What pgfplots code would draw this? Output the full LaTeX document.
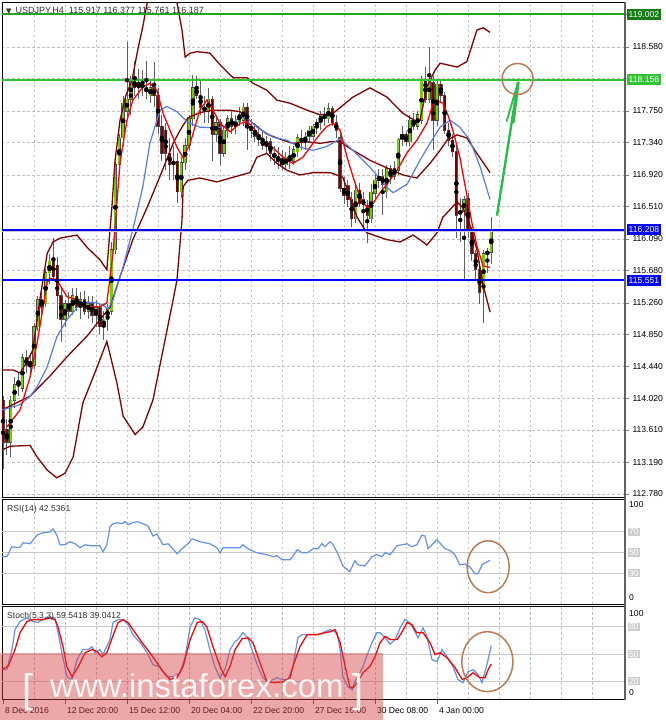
\documentclass[border=0pt]{standalone}
\usepackage{pgfplots}
\usepackage{pgfplotstable}
\pgfplotsset{compat=1.18}
\usepackage{fontspec}
\setmainfont{Liberation Sans}
\newfontfamily\dejavu{DejaVu Sans}

\definecolor{bull}{RGB}{115,205,0}
\definecolor{bear}{RGB}{125,0,0}
\definecolor{wick}{RGB}{95,95,95}
\definecolor{band}{RGB}{130,0,0}
\definecolor{maBlue}{RGB}{85,125,235}
\definecolor{oscBlue}{RGB}{100,145,235}
\definecolor{gridc}{RGB}{192,192,192}
\definecolor{lvl}{RGB}{200,200,200}
\definecolor{lvlbox}{RGB}{205,205,205}
\definecolor{lineGreen}{RGB}{50,195,50}
\definecolor{darkGreen}{RGB}{20,125,20}
\definecolor{topGreen}{RGB}{35,165,35}
\definecolor{brownc}{RGB}{185,125,85}
\definecolor{arrowGreen}{RGB}{40,190,70}
\definecolor{wm}{RGB}{214,64,64}

% USDJPY H4 candles: bar index, open, high, low, close
\pgfplotstableread{
i o h l c
0 114.00 114.05 113.10 113.45
1 113.62 113.75 113.28 113.45
2 113.45 114.05 113.26 114.00
3 114.00 114.30 113.90 114.20
4 114.20 114.35 114.05 114.25
5 114.15 114.60 114.10 114.55
6 114.55 114.65 114.35 114.45
7 114.45 114.60 114.30 114.50
8 114.45 115.00 114.40 114.95
9 114.95 115.35 114.90 115.30
10 115.30 115.45 115.10 115.20
11 115.25 115.70 115.20 115.65
12 115.65 115.90 115.50 115.80
13 115.80 116.10 115.55 115.60
14 115.75 115.85 115.05 115.35
15 115.35 115.45 114.75 115.05
16 115.05 115.30 114.95 115.25
17 115.25 115.40 115.05 115.15
18 115.15 115.45 115.10 115.35
19 115.35 115.45 115.15 115.20
20 115.20 115.40 115.05 115.30
21 115.30 115.42 115.10 115.15
22 115.15 115.35 115.05 115.25
23 115.25 115.35 115.00 115.10
24 115.10 115.30 114.95 115.20
25 115.20 115.25 114.85 114.95
26 114.95 115.15 114.78 115.05
27 115.05 115.25 114.90 115.20
28 115.15 116.05 115.10 115.95
29 115.95 117.10 115.90 117.05
30 117.05 117.45 116.95 117.40
31 117.40 117.95 117.30 117.85
32 117.75 118.65 117.65 117.90
33 117.90 118.20 117.70 118.15
34 118.15 118.40 117.95 118.05
35 118.05 118.30 117.90 118.10
36 118.10 118.28 117.95 118.05
37 118.05 118.40 117.90 118.00
38 117.95 118.15 117.85 118.05
39 118.05 118.38 117.80 117.95
40 117.95 118.05 117.45 117.55
41 117.55 117.70 117.10 117.20
42 117.50 117.60 116.98 117.20
43 117.20 117.40 116.85 117.05
44 117.05 117.30 116.85 117.10
45 117.10 117.20 116.55 116.70
46 116.70 117.15 116.62 117.08
47 117.08 117.40 116.98 117.30
48 117.30 117.70 117.25 117.65
49 117.65 118.22 117.55 118.05
50 118.05 118.20 117.90 117.95
51 117.95 118.15 117.70 117.80
52 117.80 117.95 117.60 117.75
53 117.75 118.05 117.60 117.90
54 117.90 117.95 117.10 117.45
55 117.45 117.70 117.35 117.60
56 117.60 117.65 117.05 117.20
57 117.20 117.55 117.15 117.50
58 117.50 117.70 117.40 117.65
59 117.65 117.75 117.45 117.55
60 117.55 117.70 117.45 117.62
61 117.62 117.80 117.55 117.70
62 117.63 117.85 117.55 117.80
63 117.80 117.85 117.25 117.55
64 117.55 117.65 117.40 117.50
65 117.50 117.60 117.35 117.42
66 117.42 117.55 117.30 117.38
67 117.38 117.50 117.25 117.30
68 117.30 117.42 117.20 117.35
69 117.35 117.40 117.10 117.20
70 117.20 117.30 117.05 117.15
71 117.15 117.28 117.00 117.10
72 117.10 117.25 116.98 117.05
73 117.05 117.22 116.98 117.15
74 117.15 117.30 117.00 117.10
75 117.10 117.30 117.05 117.25
76 117.22 117.45 117.15 117.40
77 117.40 117.50 117.25 117.35
78 117.35 117.48 117.25 117.42
79 117.42 117.55 117.35 117.50
80 117.42 117.58 117.38 117.55
81 117.55 117.65 117.45 117.60
82 117.60 117.75 117.50 117.70
83 117.70 117.80 117.55 117.65
84 117.65 117.85 117.60 117.78
85 117.78 117.82 117.55 117.60
86 117.60 117.70 117.40 117.50
87 117.40 117.50 116.70 116.75
88 116.75 116.90 116.55 116.65
89 116.78 116.85 116.50 116.60
90 116.60 116.70 116.25 116.35
91 116.35 116.80 116.30 116.72
92 116.72 116.82 116.50 116.55
93 116.60 116.70 116.20 116.53
94 116.53 116.60 116.04 116.40
95 116.35 116.80 116.30 116.70
96 116.68 116.95 116.60 116.85
97 116.85 117.00 116.75 116.90
98 116.90 117.00 116.40 116.80
99 116.70 117.05 116.62 117.00
100 117.00 117.05 116.80 116.90
101 116.90 117.10 116.85 117.00
102 116.98 117.40 116.92 117.38
103 117.38 117.55 117.30 117.45
104 117.45 117.48 117.30 117.35
105 117.35 117.70 117.30 117.63
106 117.63 117.72 117.50 117.55
107 117.55 117.75 117.50 117.70
108 117.63 118.20 117.58 118.15
109 118.15 118.32 117.85 117.90
110 117.90 118.58 117.85 118.15
111 118.12 118.20 117.24 117.63
112 117.63 118.15 117.55 118.10
113 118.10 118.15 117.85 117.95
114 117.95 118.00 117.45 117.50
115 117.50 117.60 117.30 117.37
116 117.37 117.45 117.15 117.22
117 117.22 117.30 116.10 116.40
118 116.42 116.62 116.05 116.45
119 116.45 116.65 115.56 116.60
120 116.62 116.68 116.10 116.20
121 116.20 116.25 115.80 115.90
122 115.90 115.95 115.55 115.70
123 115.70 115.80 115.25 115.40
124 115.43 115.95 115.00 115.90
125 115.90 115.97 115.65 115.92
126 115.917 116.377 115.761 116.187
}\candles

\pgfplotsset{
  panel/.style={
    scale only axis, width=623pt, xmin=-0.26, xmax=160.52,
    axis line style={black, line width=0.7pt},
    xtick={8,16,...,152}, xticklabels={},
    xmajorgrids,
    major grid style={gridc, dash pattern=on 2.5pt off 2.5pt, line width=0.6pt},
    minor grid style={gridc, dash pattern=on 2.5pt off 2.5pt, line width=0.6pt},
    tick label style={font=\fontsize{8.6}{10}\selectfont},
  },
  wickbar/.style={only marks, mark=none, forget plot,
    error bars/y dir=both, error bars/y explicit, error bars/error mark=none},
}

\begin{document}
\begin{tikzpicture}
\fill[white] (0,0) rectangle (665pt,-720pt);

% ---------------- price panel ----------------
\begin{axis}[panel, name=main, at={(2pt,-497pt)}, anchor=south west, height=495pt,
  ymin=112.741, ymax=119.164,
  xtick style={draw=none},
  ytick={112.78,113.19,113.61,114.02,114.44,114.85,115.26,115.68,116.09,116.51,116.92,117.34,117.75,118.17,118.58,119.0},
  yticklabels={112.780,113.190,113.610,114.020,114.440,114.850,115.260,115.680,116.090,116.510,116.920,117.340,117.750,{},118.580,{}},
  ymajorgrids, ytick pos=right, yticklabel pos=right,
  ytick style={gray, line width=0.6pt}, tick align=outside, major tick length=4pt,
]
% wicks
\addplot[wickbar, error bars/error bar style={wick, line width=0.9pt, solid}]
  table[x=i, y expr={(\thisrow{h}+\thisrow{l})/2}, y error expr={(\thisrow{h}-\thisrow{l})/2}] {\candles};
% body outlines
\addplot[wickbar, error bars/error bar style={black!70, line width=3.3pt, solid}]
  table[x=i, y expr={(\thisrow{o}+\thisrow{c})/2}, y error expr={max(abs(\thisrow{c}-\thisrow{o})/2,0.004)+0.006}] {\candles};
% bull bodies
\addplot[wickbar, restrict expr to domain={\thisrow{c}-\thisrow{o}}{0:5}, error bars/error bar style={bull, line width=2.1pt, solid}]
  table[x=i, y expr={(\thisrow{o}+\thisrow{c})/2}, y error expr={max(abs(\thisrow{c}-\thisrow{o})/2,0.004)}] {\candles};
% bear bodies
\addplot[wickbar, restrict expr to domain={\thisrow{c}-\thisrow{o}}{-5:0}, error bars/error bar style={bear, line width=2.1pt, solid}]
  table[x=i, y expr={(\thisrow{o}+\thisrow{c})/2}, y error expr={max(abs(\thisrow{c}-\thisrow{o})/2,0.004)}] {\candles};

% Bollinger bands
\addplot[band, line width=1.3pt] coordinates {
(-0.3,114.39)(2.6,114.39)(4.4,114.35)(6.2,114.50)(7.7,114.65)(9.5,115.30)(11.4,115.90)(12.9,116.05)(14.7,116.10)(19.1,116.14)(21.7,115.98)(25.0,115.82)(26.8,115.69)(27.6,116.20)(28.1,116.50)(28.9,117.10)(30.2,117.63)(31.7,117.95)(33.3,118.15)(34.8,118.55)(36.1,118.85)(37.2,119.15)(39.2,119.50)(41.8,119.60)(43.6,119.50)(44.9,119.15)(46.2,118.80)(47.0,118.45)(48.3,118.50)(50.1,118.52)(53.4,118.50)(56.0,118.35)(59.4,118.18)(63.0,118.18)(64.5,118.11)(68.1,118.02)(70.7,117.89)(74.1,117.85)(78.5,117.76)(81.8,117.70)(85.2,117.72)(90.3,117.93)(94.7,118.05)(99.1,117.93)(103.2,117.72)(106.8,117.61)(107.6,117.63)(109.4,118.06)(111.5,118.28)(112.8,118.37)(117.2,118.32)(119.7,118.39)(122.3,118.80)(123.9,118.83)(125.7,118.77)};
\addplot[band, line width=1.3pt] coordinates {
(-0.3,113.87)(7.0,114.05)(12.1,114.31)(16.5,114.56)(21.7,114.83)(25.0,115.04)(27.6,115.20)(30.2,115.60)(33.5,116.08)(37.2,116.50)(40.5,116.90)(43.9,117.33)(45.7,117.50)(47.7,117.66)(50.8,117.73)(54.2,117.76)(58.6,117.76)(61.2,117.74)(64.5,117.59)(68.1,117.45)(72.3,117.37)(74.8,117.33)(78.5,117.35)(81.8,117.33)(84.4,117.35)(87.0,117.35)(90.3,117.24)(94.7,117.11)(99.1,117.01)(103.2,116.92)(106.8,116.88)(110.2,117.07)(112.8,117.24)(114.6,117.37)(117.2,117.44)(119.7,117.40)(122.3,117.20)(125.7,116.95)};
\addplot[band, line width=1.3pt] coordinates {
(-0.3,113.35)(1.8,113.40)(7.0,113.41)(8.8,113.26)(11.4,113.09)(13.9,112.99)(16.0,113.05)(18.1,113.26)(20.6,113.96)(24.3,114.43)(26.8,114.76)(29.4,114.22)(31.0,113.79)(34.1,113.55)(36.1,113.65)(38.7,114.00)(41.3,114.65)(43.9,115.30)(44.9,115.56)(46.2,116.34)(46.5,116.77)(47.7,116.85)(50.8,116.88)(55.2,116.83)(59.4,116.89)(63.7,116.95)(65.5,117.15)(68.1,117.20)(70.7,117.07)(73.3,116.98)(76.6,116.92)(80.0,116.95)(84.4,116.95)(87.7,116.89)(89.5,116.63)(91.4,116.37)(93.9,116.17)(99.1,116.08)(102.5,116.05)(105.8,116.14)(107.6,116.08)(109.4,116.01)(112.0,116.17)(113.5,116.37)(117.2,116.57)(118.7,116.49)(120.5,116.27)(122.3,115.95)(123.9,115.49)(125.7,115.14)};
% slower moving average
\addplot[maBlue, line width=1.2pt] coordinates {
(-0.3,113.87)(1.8,113.90)(4.4,113.94)(7.0,114.05)(8.8,114.17)(11.4,114.43)(13.9,114.82)(16.5,115.04)(19.1,115.20)(21.7,115.27)(24.3,115.26)(25.8,115.23)(27.1,115.18)(28.4,115.30)(31.0,115.73)(33.5,116.21)(36.1,116.77)(37.9,117.33)(40.5,117.76)(42.3,117.81)(44.9,117.74)(47.5,117.61)(50.8,117.54)(55.2,117.53)(58.6,117.57)(61.2,117.67)(63.0,117.66)(65.5,117.54)(69.7,117.41)(73.3,117.37)(76.6,117.28)(80.0,117.24)(83.6,117.29)(87.0,117.39)(90.3,117.24)(94.7,117.02)(99.1,116.76)(100.7,116.69)(104.3,116.80)(107.6,117.11)(110.2,117.33)(112.8,117.54)(115.4,117.63)(117.9,117.54)(120.5,117.37)(123.1,117.03)(125.7,116.60)};
% fast moving average
\addplot[red, line width=1.3pt] coordinates {
(1.0,113.65)(4.4,113.87)(7.0,114.30)(8.8,114.74)(10.1,115.13)(11.4,115.52)(12.1,115.58)(13.9,115.56)(16.5,115.34)(19.1,115.30)(21.7,115.21)(25.0,115.21)(26.8,115.26)(28.4,115.91)(30.2,117.08)(32.0,117.63)(33.5,117.89)(36.1,118.06)(37.9,118.11)(39.7,118.02)(41.3,117.72)(43.1,117.50)(44.9,117.28)(46.5,117.14)(48.3,117.33)(50.8,117.76)(52.6,117.89)(54.2,117.76)(56.0,117.59)(58.6,117.48)(61.2,117.59)(63.0,117.61)(64.5,117.54)(67.1,117.37)(69.7,117.27)(72.3,117.15)(74.8,117.07)(77.4,117.15)(80.0,117.33)(81.8,117.45)(83.6,117.55)(85.2,117.59)(87.0,117.50)(88.8,117.15)(90.3,116.90)(92.1,116.63)(93.9,116.50)(95.5,116.55)(97.3,116.69)(99.1,116.80)(101.7,116.98)(104.3,117.21)(106.8,117.37)(109.4,117.59)(111.0,117.85)(112.0,117.89)(113.5,117.85)(114.8,117.70)(116.1,117.50)(117.9,117.15)(119.7,116.66)(121.0,116.30)(122.3,116.00)(123.9,115.74)(125.7,115.72)};

% horizontal levels
\addplot[lvl, line width=1pt] coordinates {(-0.26,116.187)(160.52,116.187)};
\addplot[topGreen, line width=2pt] coordinates {(-0.26,119.002)(160.52,119.002)};
\addplot[lineGreen, line width=2pt] coordinates {(-0.26,118.156)(160.52,118.156)};
\addplot[blue, line width=2pt] coordinates {(-0.26,116.208)(160.52,116.208)};
\addplot[blue, line width=2pt] coordinates {(-0.26,115.551)(160.52,115.551)};

% hand-drawn arrow and circle
\draw[arrowGreen, line width=2.4pt, line cap=round] (axis cs:127.5,116.40) -- (axis cs:132.9,118.12);
\draw[arrowGreen, line width=1.8pt, line cap=round] (axis cs:130.0,117.62) -- (axis cs:132.9,118.12);
\draw[arrowGreen, line width=1.8pt, line cap=round] (axis cs:131.8,117.60) -- (axis cs:133.1,118.12);
\draw[brownc, line width=1.5pt] (axis cs:132.8,118.165) ellipse [x radius=15.5pt, y radius=15.5pt];

\coordinate (g1) at (axis cs:160.52,119.002);
\coordinate (g2) at (axis cs:160.52,118.156);
\coordinate (b1) at (axis cs:160.52,116.208);
\coordinate (b2) at (axis cs:160.52,115.551);
\end{axis}

% ---------------- RSI panel ----------------
\begin{axis}[panel, name=rsi, at={(2pt,-604pt)}, anchor=south west, height=105pt,
  ymin=0, ymax=102, ytick=\empty, xtick style={draw=none}]
\addplot[lvl, line width=1pt] coordinates {(-0.26,70)(160.52,70)};
\addplot[lvl, line width=1pt] coordinates {(-0.26,50)(160.52,50)};
\addplot[lvl, line width=1pt] coordinates {(-0.26,30)(160.52,30)};
\addplot[oscBlue, line width=1.2pt] coordinates {
(-0.3,46)(1.0,46)(2.3,55.6)(3.6,55)(4.4,55)(5.2,59.5)(7.0,58.5)(8.8,67)(10.1,69)(12.1,70)(12.9,73)(13.9,67)(14.7,57.6)(16.0,57.6)(17.3,60.5)(18.6,58.5)(19.9,54.7)(21.2,57.6)(22.5,56.6)(25.0,56.6)(25.8,50.8)(26.8,57.6)(27.6,75)(28.4,78)(29.7,79)(30.7,78)(31.5,80)(32.3,77)(33.5,79)(34.8,80)(36.1,78)(37.4,76)(38.7,66)(39.7,68)(41.3,57.6)(42.6,58.5)(43.6,54.7)(44.9,48.8)(46.2,53.7)(47.5,57.6)(48.8,63.4)(50.8,60.5)(53.4,58.5)(55.2,54.7)(56.0,49.8)(56.8,54.7)(59.4,54.7)(61.2,54.7)(61.9,57.6)(63.2,53.7)(65.5,49.8)(68.1,47.9)(69.7,46)(70.7,47)(72.0,43)(74.1,43)(74.8,46)(75.9,52.7)(77.2,49.8)(78.5,49.8)(80.0,53.7)(81.3,53.7)(82.3,58.6)(83.1,55.6)(84.4,60.5)(85.2,57.6)(86.5,48)(87.7,37)(89.5,31.4)(90.8,42)(91.6,38)(93.4,37)(95.2,46)(96.5,48)(97.8,46)(98.6,49.8)(99.9,48)(101.7,56.6)(104.3,58.5)(105.5,55.6)(106.8,57.6)(108.1,67)(108.9,66)(109.7,53.7)(112.0,62.4)(114.1,53.7)(115.4,52)(116.6,48)(117.9,38)(119.2,39)(120.5,36)(121.8,29.4)(122.6,29.4)(123.6,38)(124.4,40)(125.7,42.5)};
\draw[brownc, line width=1.5pt] (axis cs:125.2,36.2) ellipse [x radius=21pt, y radius=26pt];
\coordinate (r100) at (axis cs:160.52,96.4);
\coordinate (r70) at (axis cs:160.52,70);
\coordinate (r50) at (axis cs:160.52,50);
\coordinate (r30) at (axis cs:160.52,30);
\coordinate (r0) at (axis cs:160.52,6.1);
\end{axis}

% ---------------- Stochastic panel ----------------
\begin{axis}[panel, name=sto, at={(2pt,-699.5pt)}, anchor=south west, height=93.5pt,
  ymin=0, ymax=103, ytick=\empty,
  xtick={0,16,32,48,64,80,96,112},
  xticklabels={8 Dec 2016,12 Dec 20:00,15 Dec 12:00,20 Dec 04:00,22 Dec 20:00,27 Dec 16:00,30 Dec 08:00,4 Jan 00:00},
  xmajorgrids=false, minor xtick={8,16,...,152}, xminorgrids=true, minor tick length=0pt,
  xtick pos=bottom, tick align=outside, major tick length=4pt,
  xtick style={gray!70!black, line width=0.6pt},
  xticklabel style={anchor=north west, xshift=-1.5pt, yshift=-0.5pt, text=black},
]
\addplot[lvl, line width=1pt] coordinates {(-0.26,80)(160.52,80)};
\addplot[lvl, line width=1pt] coordinates {(-0.26,50)(160.52,50)};
\addplot[lvl, line width=1pt] coordinates {(-0.26,20)(160.52,20)};
% %K
\addplot[oscBlue, line width=1.2pt] coordinates {
(-0.3,33)(1.0,33)(2.3,55)(3.1,77)(4.4,86)(6.2,90)(7.7,86)(9.0,85)(10.3,88)(11.6,91)(13.4,90)(14.2,73.6)(15.2,51.6)(16.5,25)(17.8,22)(19.1,44)(20.6,55)(21.9,55)(23.0,58)(23.7,51.6)(25.0,55)(25.8,49.4)(27.6,66)(28.4,85)(29.7,88)(31.0,88)(32.3,82.5)(33.5,71.5)(35.4,62.6)(37.2,51.6)(38.7,38.4)(40.5,36)(42.3,25)(43.9,25)(45.7,29.5)(47.0,47)(48.3,80)(49.5,90)(50.8,88)(52.1,77)(53.4,55)(54.7,36)(56.0,24)(57.3,33)(58.6,55)(59.9,64)(60.6,66)(61.9,73.6)(63.2,68)(64.5,51.6)(65.8,36)(67.1,24)(68.4,19.6)(70.7,24)(72.0,22)(73.5,22)(74.8,36)(76.1,68)(77.2,71.5)(79.2,71.5)(81.8,71.5)(83.1,74.7)(84.4,77)(86.2,73.6)(87.0,55)(87.7,25)(89.0,14)(90.1,10.8)(90.8,19.6)(92.1,29.5)(92.9,36.6)(94.2,51.6)(95.2,62.6)(96.5,73.6)(97.3,73.6)(98.6,68)(99.9,61)(101.2,66)(102.5,79)(103.7,88)(105.0,84.7)(106.3,74.7)(107.1,68)(108.4,79)(109.4,69.5)(110.7,44)(112.0,41.7)(113.3,55)(114.6,47)(116.1,36.6)(117.4,22)(118.7,18.5)(120.0,30.6)(121.3,33)(122.6,27.5)(123.6,18.5)(124.4,30.6)(125.2,44)(126.0,59.5)};
% %D
\addplot[red, line width=1.3pt] coordinates {
(-0.3,33)(1.3,36.6)(3.1,55)(4.4,73.6)(6.2,86)(7.7,88)(10.3,88)(12.1,90)(13.4,88)(14.2,80)(15.5,58)(16.5,36)(17.8,25)(19.4,36)(21.2,51.6)(23.0,55)(24.3,52.7)(25.5,47)(26.8,51.6)(28.4,70.5)(29.7,84.7)(31.0,88)(32.3,84.7)(34.1,73.6)(35.9,62.6)(37.9,51.6)(39.7,40.6)(41.3,30.6)(43.1,22)(44.9,24)(46.5,36.6)(48.3,66)(50.1,84.7)(51.4,86)(52.6,80)(54.2,58)(56.0,36.6)(57.3,25)(58.6,36.6)(59.9,55)(61.7,66.9)(63.2,68)(64.5,62.6)(66.3,40.6)(68.1,19.6)(70.2,18.5)(72.3,19.6)(74.1,24)(74.8,36)(76.6,58)(78.5,71.5)(81.0,71.5)(83.1,73.6)(84.4,74.7)(85.7,77)(87.0,62.6)(88.3,36.6)(89.5,14)(90.3,13)(91.6,19.6)(92.9,29.5)(94.7,36.6)(96.0,47)(97.3,62.6)(98.6,69.5)(99.9,66)(101.7,66)(103.0,74.7)(104.3,84.7)(105.5,82.5)(106.8,73.6)(108.4,73.6)(110.2,62.6)(111.5,49.4)(112.8,51.6)(114.6,46)(116.6,35.5)(118.5,22)(119.7,24)(121.3,29.5)(123.1,24)(124.4,24)(125.2,33)(126.0,39)};
\draw[brownc, line width=1.5pt] (axis cs:125.0,41.7) ellipse [x radius=25.5pt, y radius=30pt];
\coordinate (s100) at (axis cs:160.52,94.6);
\coordinate (s80) at (axis cs:160.52,80);
\coordinate (s50) at (axis cs:160.52,50);
\coordinate (s20) at (axis cs:160.52,20);
\coordinate (s0) at (axis cs:160.52,7.5);
\end{axis}

% right edge of the panels
\draw[gray!75!black, line width=1.5pt] (625pt,-2pt) -- (625pt,-699.5pt);

% price labels on the right scale
\tikzset{pricebox/.style={anchor=west, text=white, font=\fontsize{8.6}{10}\selectfont, inner xsep=2pt, inner ysep=1.5pt, minimum height=11pt, xshift=1.5pt}}
\node[pricebox, fill=darkGreen] at (g1) {119.002};
\node[pricebox, fill=lineGreen] at (g2) {118.156};
\node[pricebox, fill=blue] at (b1) {116.208};
\node[pricebox, fill=blue] at (b2) {115.551};

\tikzset{oscnum/.style={anchor=west, font=\fontsize{8.6}{10}\selectfont, inner sep=1pt, xshift=3pt},
         lvlnum/.style={oscnum, fill=lvlbox, text=white}}
\node[oscnum] at (r100) {100};
\node[lvlnum] at (r70) {70};
\node[lvlnum] at (r50) {50};
\node[lvlnum] at (r30) {30};
\node[oscnum] at (r0) {0};
\node[oscnum] at (s100) {100};
\node[lvlnum] at (s80) {80};
\node[lvlnum] at (s50) {50};
\node[lvlnum] at (s20) {20};
\node[oscnum] at (s0) {0};

% panel captions
\node[anchor=west, inner sep=0pt, text=black!80] at (6pt,-11pt)
  {{\dejavu\fontsize{7}{8}\selectfont ▼}\hspace{4pt}\fontsize{9}{10}\selectfont USDJPY,H4\ \ 115.917 116.377 115.761 116.187};
\node[anchor=west, inner sep=0pt, text=black!80, font=\fontsize{8.6}{10}\selectfont] at (7pt,-509pt) {RSI(14) 42.5361};
\node[anchor=west, inner sep=0pt, text=black!80, font=\fontsize{8.6}{10}\selectfont] at (7pt,-616pt) {Stoch(5,3,3) 59.5418 39.0412};

% watermark
\fill[wm, fill opacity=0.45] (0,-653pt) rectangle (383pt,-720pt);
\node[anchor=base west, inner sep=0pt, text=white, text opacity=0.9, font=\fontsize{40}{40}\selectfont] at (22pt,-702pt) {[};
\node[anchor=base west, inner sep=0pt, text=white, text opacity=0.9, font=\fontsize{33}{33}\selectfont] at (50pt,-697pt) {www.instaforex.com};
\node[anchor=base west, inner sep=0pt, text=white, text opacity=0.9, font=\fontsize{40}{40}\selectfont] at (352pt,-702pt) {]};

\pgfresetboundingbox
\useasboundingbox (0,0) rectangle (665pt,-720pt);
\end{tikzpicture}
\end{document}
